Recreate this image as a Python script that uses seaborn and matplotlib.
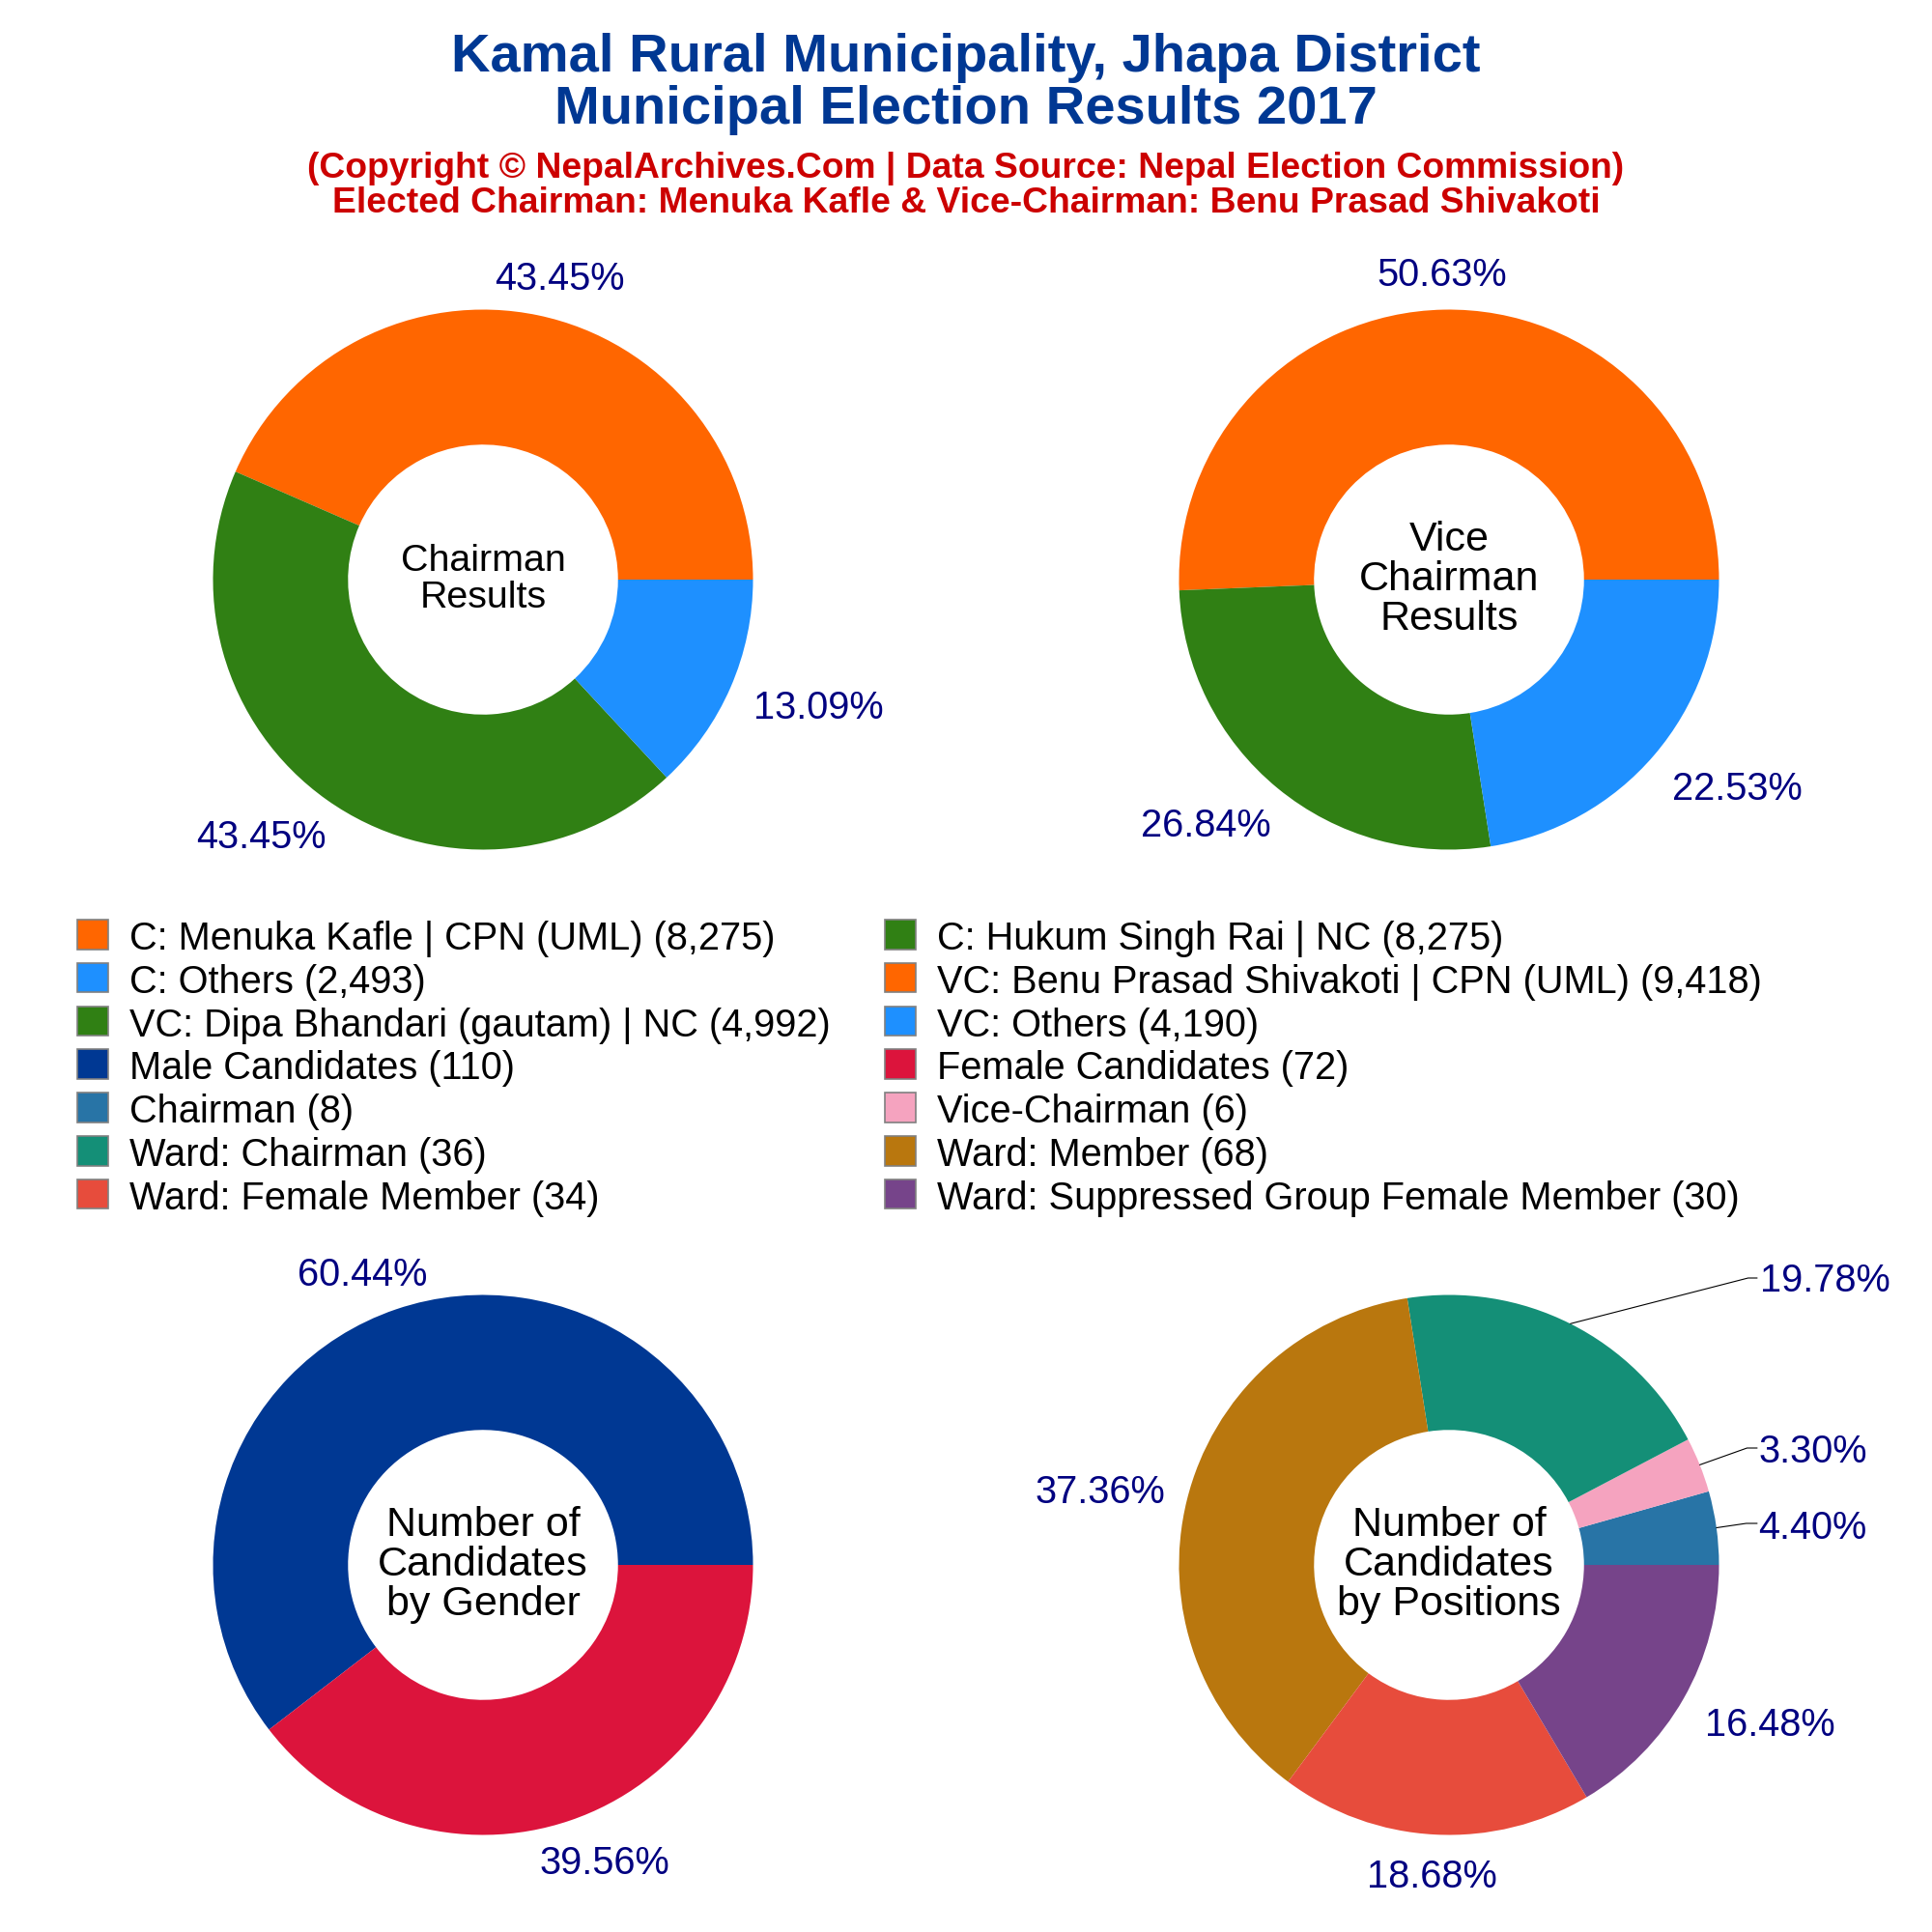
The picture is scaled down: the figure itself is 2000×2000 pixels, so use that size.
import matplotlib
matplotlib.use("Agg")
import numpy as np
import matplotlib.pyplot as plt
from matplotlib.legend_handler import HandlerPatch
from matplotlib.patches import Patch, Rectangle
import seaborn as sns

# Data
chairman_names = ["C: Menuka Kafle | CPN (UML)", "C: Hukum Singh Rai | NC", "C: Others"]
chairman_votes = [8275, 8275, 2493]
vice_names = ["VC: Benu Prasad Shivakoti | CPN (UML)", "VC: Dipa Bhandari (gautam) | NC", "VC: Others"]
vice_votes = [9418, 4992, 4190]
gender_names = ["Male Candidates", "Female Candidates"]
gender_counts = [110, 72]
position_names = ["Chairman", "Vice-Chairman", "Ward: Chairman", "Ward: Member",
                  "Ward: Female Member", "Ward: Suppressed Group Female Member"]
position_counts = [8, 6, 36, 68, 34, 30]

vote_colors = ["#FF6600", "#308014", "#1E90FF"]
gender_colors = ["#003893", "#DC143C"]
position_colors = ["#2874A6", "#F5A3BF", "#148F77", "#B9770E", "#E74C3C", "#76448A"]

FIG_PX = 2000
RADIUS_PX = 279.5

sns.set_theme(style="white")
plt.rcParams["font.family"] = ["Liberation Sans", "DejaVu Sans"]


def raised_patch(legend, orig_handle, xdescent, ydescent, width, height, fontsize):
    """Legend box sitting a little above the text baseline."""
    return Rectangle((-xdescent, -ydescent + 0.7), width, height)


def draw_donut(fig, cx, cy, values, colors, center_text, center_size, label_pos):
    """Draw one donut, label centres are offsets in radius units."""
    ax = fig.add_axes([(cx - RADIUS_PX) / FIG_PX, 1 - (cy + RADIUS_PX) / FIG_PX,
                       2 * RADIUS_PX / FIG_PX, 2 * RADIUS_PX / FIG_PX])
    ax.pie(values, colors=colors, startangle=0, counterclock=True, radius=1,
           wedgeprops={"width": 0.5, "linewidth": 0})
    ax.set_xlim(-1, 1)
    ax.set_ylim(-1, 1)
    ax.axis("off")
    ax.text(0, 0.0, center_text, ha="center", va="center", fontsize=center_size,
            color="black", linespacing=1.04)
    total = sum(values)
    for val, (lx, ly) in zip(values, label_pos):
        ax.text(lx, ly - 2 / 219, f"{val / total * 100:.2f}%", ha="center", va="center",
                fontsize=14.3, color="#000080", clip_on=False)
    return ax


def add_leader(ax, values, idx, elbow, end):
    """Thin line from the slice middle to its outside label."""
    total = sum(values)
    mid = (sum(values[:idx]) + values[idx] / 2) / total * 2 * np.pi
    ax.plot([np.cos(mid), elbow[0], end[0]], [np.sin(mid), elbow[1], end[1]],
            color="black", lw=0.4, clip_on=False)


def main():
    fig = plt.figure(figsize=(10, 10), dpi=200, facecolor="white")

    fig.text(0.5, 1 - 60 / FIG_PX, "Kamal Rural Municipality, Jhapa District", ha="center",
             va="center", fontsize=20.2, fontweight="bold", color="#003893")
    fig.text(0.5, 1 - 114 / FIG_PX, "Municipal Election Results 2017", ha="center",
             va="center", fontsize=20.2, fontweight="bold", color="#003893")
    fig.text(0.5, 1 - 175 / FIG_PX, "(Copyright © NepalArchives.Com | Data Source: Nepal Election Commission)",
             ha="center", va="center", fontsize=13.4, fontweight="bold", color="#CC0000")
    fig.text(0.5, 1 - 210 / FIG_PX, "Elected Chairman: Menuka Kafle & Vice-Chairman: Benu Prasad Shivakoti",
             ha="center", va="center", fontsize=13.4, fontweight="bold", color="#CC0000")

    draw_donut(fig, 500, 600, chairman_votes, vote_colors, "Chairman\nResults", 14.2,
               [(62 / 219, 246 / 219), (-180 / 219, -207 / 219), (272 / 219, -102 / 219)])
    draw_donut(fig, 1500, 600, vice_votes, vote_colors, "Vice\nChairman\nResults", 15.5,
               [(-6 / 219, 249 / 219), (-197 / 219, -198 / 219), (234 / 219, -168 / 219)])
    draw_donut(fig, 500, 1620, gender_counts, gender_colors, "Number of\nCandidates\nby Gender", 15.5,
               [(-98 / 219, 237 / 219), (99 / 219, -240 / 219)])
    ax4 = draw_donut(fig, 1500, 1620, position_counts, position_colors,
                     "Number of\nCandidates\nby Positions", 15.5,
                     [(295 / 219, 32 / 219), (295 / 219, 94 / 219), (305 / 219, 232 / 219),
                      (-283 / 219, 61 / 219), (-14 / 219, -251 / 219), (260 / 219, -128 / 219)])
    # leader lines for the labels on the right
    end_x = 319 / RADIUS_PX
    add_leader(ax4, position_counts, 0, (307.7 / RADIUS_PX, 43 / RADIUS_PX), (end_x, 43 / RADIUS_PX))
    add_leader(ax4, position_counts, 1, (308.5 / RADIUS_PX, 121 / RADIUS_PX), (end_x, 121 / RADIUS_PX))
    add_leader(ax4, position_counts, 2, (309.6 / RADIUS_PX, 297 / RADIUS_PX), (end_x, 297 / RADIUS_PX))

    # Legend, filled row by row in the reference, so one legend per column
    left = [(chairman_names[0], chairman_votes[0], vote_colors[0]),
            (chairman_names[2], chairman_votes[2], vote_colors[2]),
            (vice_names[1], vice_votes[1], vote_colors[1]),
            (gender_names[0], gender_counts[0], gender_colors[0]),
            (position_names[0], position_counts[0], position_colors[0]),
            (position_names[2], position_counts[2], position_colors[2]),
            (position_names[4], position_counts[4], position_colors[4])]
    right = [(chairman_names[1], chairman_votes[1], vote_colors[1]),
             (vice_names[0], vice_votes[0], vote_colors[0]),
             (vice_names[2], vice_votes[2], vote_colors[2]),
             (gender_names[1], gender_counts[1], gender_colors[1]),
             (position_names[1], position_counts[1], position_colors[1]),
             (position_names[3], position_counts[3], position_colors[3]),
             (position_names[5], position_counts[5], position_colors[5])]

    font_pt = 14.3
    font_px = font_pt * 200 / 72
    for entries, x_px in [(left, 79.5), (right, 915.5)]:
        handles = [Patch(facecolor=c, edgecolor="#808080", linewidth=0.6,
                         label=f"{n} ({v:,})") for n, v, c in entries]
        fig.legend(handles=handles, loc="upper left",
                   bbox_to_anchor=(x_px / FIG_PX, 1 - 953 / FIG_PX),
                   handler_map={Patch: HandlerPatch(patch_func=raised_patch)},
                   frameon=False, fontsize=font_pt, borderpad=0, borderaxespad=0,
                   handlelength=32 / font_px, handleheight=32 / font_px,
                   handletextpad=23 / font_px, labelspacing=(45.6 - 38.8) / font_px,
                   labelcolor="black")

    fig.savefig("out.png", dpi=200, facecolor="white")


if __name__ == "__main__":
    main()
